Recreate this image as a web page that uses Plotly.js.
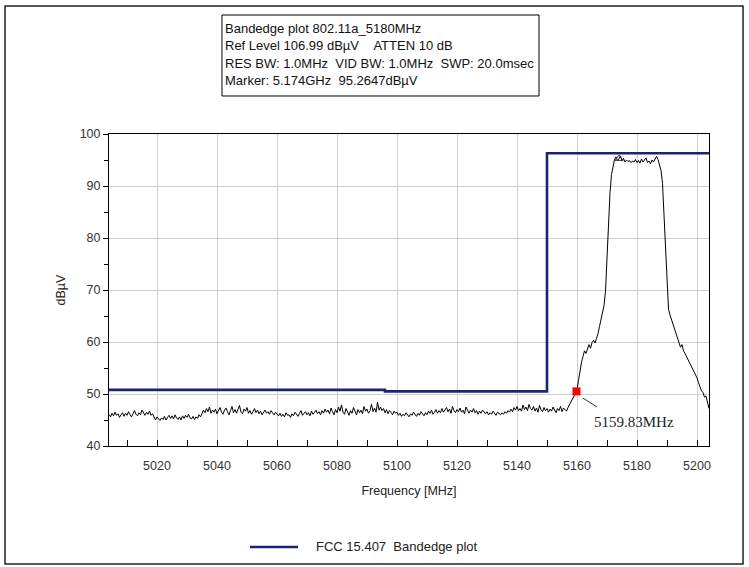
<!DOCTYPE html>
<html>
<head>
<meta charset="utf-8">
<script src="https://cdn.plot.ly/plotly-3.0.1.min.js"></script>
<style>
  html, body { margin: 0; padding: 0; background: #ffffff; }
  #chart { width: 749px; height: 567px; }
</style>
</head>
<body>
<div id="chart"></div>
<script>
// Sweep grid: 401 points, 0.5 MHz apart, 5004 to 5204 MHz
const sweepStartMHz = 5004;
const sweepStepMHz = 0.5;

// Measured level (dBuV) for each sweep point
const levelDbuv = [
  // 5004.0 - 5018.5
  46.1, 45.6, 46.3, 45.8, 46.5, 45.9, 46.2, 45.5, 46.0, 46.4,
  45.7, 46.3, 45.9, 46.6, 46.0, 45.6, 46.2, 46.8, 46.1, 45.8,
  46.4, 46.0, 46.9, 46.3, 45.9, 46.5, 46.1, 46.7, 45.9, 46.2,
  // 5019.0 - 5034.5
  45.5, 45.0, 45.6, 45.2, 44.9, 45.4, 45.1, 45.7, 45.0, 45.5,
  45.9, 45.3, 45.8, 45.2, 46.0, 45.4, 45.1, 45.6, 45.0, 45.8,
  45.3, 45.9, 45.5, 46.1, 45.4, 45.2, 45.7, 45.1, 45.6, 45.3,
  46.0, 45.6,
  // 5035.0 - 5059.5
  46.2, 46.9, 46.4, 47.2, 46.6, 47.5, 46.3, 46.9, 46.5, 47.1,
  46.2, 46.8, 47.4, 46.5, 46.1, 46.9, 47.3, 46.6, 46.0, 46.8,
  47.6, 46.4, 47.0, 46.3, 46.9, 47.8, 46.5, 46.2, 47.1, 46.7,
  47.4, 46.3, 46.8, 46.1, 46.6, 47.2, 46.4, 46.9, 46.2, 46.7,
  46.0, 46.5, 46.9, 46.3, 46.6, 46.1, 46.8, 46.4, 46.0, 46.5,
  // 5060.0 - 5074.5
  46.2, 45.8, 46.3, 45.7, 46.1, 45.6, 46.4, 45.9, 46.0, 45.5,
  46.2, 45.8, 46.5, 46.0, 45.7, 46.3, 46.8, 45.9, 46.2, 46.6,
  46.0, 46.4, 45.8, 46.7, 46.1, 46.5, 46.9, 46.2, 46.6, 46.0,
  // 5075.0 - 5099.5
  46.8, 46.3, 47.1, 46.5, 46.9, 46.2, 47.3, 46.6, 46.0, 47.0,
  46.4, 47.5, 46.7, 47.9, 46.5, 46.1, 47.2, 46.6, 45.9, 46.8,
  46.3, 47.4, 46.5, 46.0, 47.0, 46.4, 46.9, 46.2, 47.6, 46.7,
  47.1, 46.3, 46.8, 48.0, 46.6, 47.3, 46.5, 48.4, 46.9, 47.5,
  46.8, 47.2, 46.4, 47.0, 46.2, 46.8, 46.5, 46.0, 46.7, 46.3,
  // 5100.0 - 5114.5
  46.5, 45.9, 46.3, 45.7, 46.1, 45.8, 46.4, 46.0, 45.6, 46.2,
  45.9, 46.5, 46.1, 45.7, 46.3, 45.9, 46.6, 46.2, 45.8, 46.4,
  46.0, 46.7, 46.3, 46.9, 46.1, 46.5, 47.0, 46.3, 46.8, 46.4,
  // 5115.0 - 5134.5
  47.2, 46.5, 46.9, 47.4, 46.6, 47.1, 46.3, 47.6, 46.8, 46.4,
  47.0, 46.6, 47.3, 46.5, 46.9, 46.2, 47.5, 46.7, 46.3, 46.9,
  46.5, 47.2, 46.4, 46.8, 46.1, 46.7, 46.3, 46.9, 46.5, 46.2,
  46.6, 46.0, 46.4, 46.1, 46.7, 46.3, 45.9, 46.5, 46.2, 46.0,
  // 5135.0 - 5142.5
  46.4, 46.1, 46.6, 46.3, 46.8, 46.5, 47.1, 46.6, 47.4, 46.9,
  47.6, 46.8, 47.2, 46.7, 47.9, 47.0,
  // 5143.0 - 5156.5
  47.5, 46.8, 48.0, 47.2, 46.9, 47.6, 46.7, 47.3, 46.5, 47.8,
  47.0, 46.6, 47.4, 46.8, 47.2, 46.5, 47.1, 46.7, 47.5, 46.9,
  46.4, 47.2, 46.8, 47.6, 46.6, 47.3, 46.9, 46.7,
  // 5157.0 - 5172.5 (lower band edge)
  47.4, 48.0, 48.6, 49.2, 49.6, 50.0, 50.8, 52.6, 54.6, 56.1,
  57.2, 58.3, 57.8, 58.9, 59.5, 58.8, 59.9, 60.3, 59.8, 60.7,
  61.6, 63.0, 64.3, 65.7, 67.0, 69.8, 76.2, 83.8, 88.7, 92.2,
  94.0, 95.1,
  // 5173.0 - 5187.5 (channel top)
  95.6, 94.9, 95.26, 95.8, 94.8, 95.3, 94.6, 95.0, 94.7, 94.9,
  94.5, 94.8, 94.6, 95.1, 94.5, 94.9, 94.4, 95.2, 94.6, 94.9,
  95.4, 94.5, 94.8, 94.3, 95.0, 94.6, 95.3, 95.7, 95.1, 94.2,
  // 5188.0 - 5204.0 (upper skirt)
  93.0, 90.5, 84.5, 75.5, 69.5, 66.3, 65.2, 64.3, 63.7, 62.5,
  61.9, 60.6, 60.0, 59.0, 59.5, 58.3, 57.8, 57.2, 56.9, 56.1,
  55.6, 55.0, 54.3, 53.6, 53.1, 52.2, 51.5, 50.6, 50.3, 49.4,
  49.6, 48.0, 47.2
];

// FCC 15.407 band-edge limit mask
const limitFreqMHz = [5004, 5096, 5096, 5150, 5150, 5204];
const limitLevelDbuv = [50.8, 50.8, 50.5, 50.5, 96.3, 96.3];

// Markers
const edgeMarkerMHz = 5159.83;
const edgeMarkerDbuv = 50.5;
const peakMarkerMHz = 5174;
const peakMarkerDbuv = 95.2647;

// Header text lines
const headerLines = [
  "Bandedge plot 802.11a_5180MHz",
  "Ref Level 106.99 dB\u00b5V\u00a0\u00a0\u00a0\u00a0ATTEN 10 dB",
  "RES BW: 1.0MHz\u00a0\u00a0VID BW: 1.0MHz\u00a0\u00a0SWP: 20.0msec",
  "Marker: 5.174GHz\u00a0\u00a095.2647dB\u00b5V"
];
const legendLabel = "FCC 15.407\u00a0\u00a0Bandedge plot";

const freqMHz = levelDbuv.map((_, i) => sweepStartMHz + i * sweepStepMHz);

const sans = "Liberation Sans, Arial, sans-serif";
const navy = "#1c2470";

const traces = [
  {
    x: limitFreqMHz, y: limitLevelDbuv, type: "scatter", mode: "lines",
    line: { color: navy, width: 2.6 }, hoverinfo: "skip"
  },
  {
    x: freqMHz, y: levelDbuv, type: "scatter", mode: "lines",
    line: { color: "#000000", width: 1 }, hoverinfo: "skip"
  },
  {
    x: [peakMarkerMHz], y: [peakMarkerDbuv], type: "scatter", mode: "markers",
    marker: { symbol: "triangle-up-open", size: 7, color: "#333333", line: { width: 1 } }
  },
  {
    x: [edgeMarkerMHz], y: [edgeMarkerDbuv], type: "scatter", mode: "markers",
    marker: { symbol: "square", size: 8, color: "#ff0000" }
  }
];

// header box text positions (paper units)
const headerY = [1.3397, 1.2821, 1.2244, 1.1699];
const annotations = headerLines.map((t, i) => ({
  xref: "paper", yref: "paper", x: 0.19, y: headerY[i],
  xanchor: "left", yanchor: "middle", showarrow: false, text: t,
  font: { family: sans, size: 13, color: "#111111" }
}));

annotations.push({
  xref: "x", yref: "y", x: 5165.0, y: 44.6, xanchor: "left", yanchor: "middle",
  showarrow: false, text: edgeMarkerMHz.toFixed(2) + "MHz",
  font: { family: "Liberation Serif, Times New Roman, serif", size: 15, color: "#222222" }
});

annotations.push({
  xref: "paper", yref: "paper", x: 0.342, y: -0.3237, xanchor: "left", yanchor: "middle",
  showarrow: false, text: legendLabel,
  font: { family: sans, size: 13, color: "#222222" }
});

const shapes = [
  // outer frame
  { type: "rect", xref: "paper", yref: "paper", x0: -0.1733, x1: 1.0567, y0: -0.3782, y1: 1.4103,
    line: { color: "#222222", width: 1.5 }, fillcolor: "rgba(0,0,0,0)" },
  // header box
  { type: "rect", xref: "paper", yref: "paper", x0: 0.1883, x1: 0.7167, y0: 1.1218, y1: 1.3814,
    line: { color: "#000000", width: 1 }, fillcolor: "rgba(0,0,0,0)" },
  // leader from the edge marker to its label
  { type: "line", xref: "x", yref: "y", x0: 5162.0, y0: 49.2, x1: 5166.7, y1: 47.5,
    line: { color: "#333333", width: 1 } },
  // legend swatch
  { type: "line", xref: "paper", yref: "paper", x0: 0.235, x1: 0.315, y0: -0.3237, y1: -0.3237,
    line: { color: navy, width: 2.6 } }
];

const layout = {
  width: 749, height: 567,
  margin: { l: 109, r: 40, t: 134, b: 121, pad: 0 },
  paper_bgcolor: "#ffffff", plot_bgcolor: "#ffffff",
  showlegend: false,
  font: { family: sans, size: 12, color: "#333333" },
  xaxis: {
    range: [5004, 5204], tick0: 5000, dtick: 20,
    ticks: "inside", ticklen: 6, tickcolor: "#000000",
    ticklabelstandoff: 8,
    minor: { dtick: 10, ticks: "inside", ticklen: 6, tickcolor: "#000000", showgrid: false },
    showgrid: true, gridcolor: "#cfcfcf", gridwidth: 1,
    showline: true, linecolor: "#000000", linewidth: 1, mirror: true,
    zeroline: false,
    tickfont: { family: sans, size: 12.5, color: "#333333" },
    title: { text: "Frequency [MHz]", standoff: 14, font: { family: sans, size: 12.5, color: "#222222" } }
  },
  yaxis: {
    range: [40, 100], tick0: 40, dtick: 10,
    ticks: "outside", ticklen: 5, tickcolor: "#000000",
    minor: { dtick: 5, ticks: "outside", ticklen: 4, tickcolor: "#000000", showgrid: false },
    showgrid: true, gridcolor: "#cfcfcf", gridwidth: 1,
    showline: true, linecolor: "#000000", linewidth: 1, mirror: true,
    zeroline: false,
    tickfont: { family: sans, size: 12.5, color: "#333333" },
    title: { text: "dB\u00b5V", standoff: 11, font: { family: sans, size: 12.5, color: "#222222" } }
  },
  annotations: annotations,
  shapes: shapes
};

Plotly.newPlot("chart", traces, layout, { staticPlot: true, displayModeBar: false });
</script>
</body>
</html>
